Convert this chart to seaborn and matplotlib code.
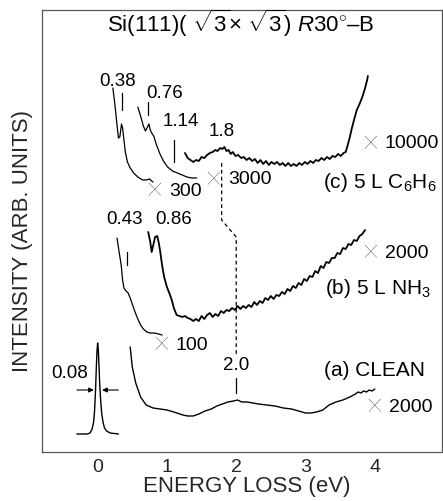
import numpy as np
import pandas as pd
import matplotlib
matplotlib.use("Agg")
import matplotlib.pyplot as plt
import seaborn as sns

# ---------------- data (energy loss in eV, intensity in arbitrary units) ----------------
elastic_e = [-0.30, -0.15, -0.11, -0.08, -0.06, -0.045, -0.03, -0.02, -0.01, 0.0,
             0.01, 0.02, 0.03, 0.045, 0.06, 0.08, 0.10, 0.13, 0.18, 0.30]
elastic_i = [18, 18, 19, 23, 29, 40, 62, 82, 100, 109,
             102, 86, 68, 50, 38, 29, 24, 21, 19, 18]

clean_e = [0.47, 0.50, 0.55, 0.62, 0.70, 0.80, 0.90, 1.00, 1.10, 1.23, 1.30, 1.38, 1.46,
           1.55, 1.64, 1.72, 1.80, 1.88, 1.96, 2.02, 2.08, 2.16, 2.24, 2.32, 2.44, 2.56,
           2.68, 2.80, 2.90, 3.00, 3.08, 3.16, 3.25, 3.34, 3.44, 3.54, 3.64, 3.72, 3.76,
           3.80, 3.84, 3.88, 3.92, 3.96, 4.00]
clean_px = [347, 367, 383, 397, 405, 408, 409, 410, 412, 415, 416, 416, 414,
            411, 409, 406, 404, 402, 401, 400, 402, 402, 403, 404, 405, 406,
            408, 409, 411, 413, 413, 412, 410, 405, 402, 400, 397, 394, 392,
            393, 391, 392, 390, 391, 389]

nh3_x100_e = [0.28, 0.31, 0.34, 0.36, 0.38, 0.41, 0.44, 0.47, 0.50, 0.54, 0.58, 0.62,
              0.66, 0.71, 0.76, 0.82, 0.88, 0.93]
nh3_x100_px = [238, 252, 265, 280, 288, 291, 293, 298, 304, 312, 319, 325,
               329, 332, 333, 333, 334, 335]

nh3_x2000_e = [0.73, 0.76, 0.78, 0.80, 0.83, 0.86, 0.88, 0.90, 0.93, 0.96, 1.00, 1.04,
               1.07, 1.10, 1.14, 1.18, 1.22, 1.26, 1.30, 1.34, 1.38, 1.42, 1.46, 1.50,
               1.54, 1.58, 1.62, 1.66, 1.70, 1.74, 1.78, 1.82, 1.86, 1.90, 1.94, 1.98,
               2.02, 2.06, 2.10, 2.14, 2.18, 2.22, 2.26, 2.30, 2.34, 2.38, 2.42, 2.46,
               2.50, 2.54, 2.58, 2.62, 2.66, 2.70, 2.74, 2.78, 2.82, 2.86, 2.90, 2.94,
               2.98, 3.02, 3.06, 3.10, 3.14, 3.18, 3.22, 3.26, 3.30, 3.34, 3.38, 3.42,
               3.46, 3.50, 3.54, 3.58, 3.62, 3.66, 3.70, 3.74, 3.78, 3.82, 3.86]
nh3_x2000_px = [232, 242, 252, 246, 237, 236, 242, 250, 265, 277, 287, 294,
                300, 308, 315, 316, 317, 316, 318, 319, 321, 319, 321, 316,
                319, 315, 313, 317, 314, 316, 311, 313, 310, 311, 308, 310,
                306, 309, 306, 308, 305, 307, 302, 305, 301, 303, 298, 300,
                296, 299, 295, 296, 292, 294, 289, 291, 286, 288, 283, 285,
                279, 281, 276, 277, 271, 273, 266, 268, 262, 263, 258, 258,
                253, 254, 248, 249, 244, 245, 240, 241, 236, 234, 230]

c6h6_x300_e = [0.22, 0.25, 0.28, 0.30, 0.32, 0.345, 0.36, 0.38, 0.40, 0.43, 0.47,
               0.52, 0.58, 0.65, 0.70, 0.75, 0.78, 0.80]
c6h6_x300_px = [88, 105, 125, 138, 137, 124, 128, 140, 152, 162, 168,
                173, 177, 180, 180, 179, 181, 182]

c6h6_x3000_e = [0.58, 0.62, 0.66, 0.69, 0.72, 0.74, 0.76, 0.78, 0.81, 0.85, 0.90,
                0.95, 1.01, 1.08, 1.15, 1.22, 1.29, 1.36, 1.43]
c6h6_x3000_px = [107, 116, 126, 131, 127, 124, 130, 133, 136, 145, 154,
                 161, 167, 171, 173, 175, 177, 178, 178]

c6h6_x10000_e = [1.26, 1.30, 1.34, 1.38, 1.42, 1.46, 1.50, 1.54, 1.58, 1.62, 1.66, 1.70,
                 1.73, 1.77, 1.80, 1.83, 1.86, 1.89, 1.92, 1.95, 1.99, 2.03, 2.07, 2.11,
                 2.15, 2.19, 2.23, 2.27, 2.31, 2.35, 2.39, 2.43, 2.47, 2.51, 2.55, 2.59,
                 2.63, 2.67, 2.71, 2.75, 2.79, 2.83, 2.87, 2.91, 2.95, 2.99, 3.03, 3.07,
                 3.11, 3.15, 3.19, 3.23, 3.27, 3.31, 3.35, 3.39, 3.43, 3.47, 3.51, 3.55,
                 3.58, 3.61, 3.64, 3.67, 3.70, 3.74, 3.78, 3.82, 3.86, 3.89, 3.90]
c6h6_x10000_px = [153, 158, 160, 162, 160, 161, 157, 158, 155, 153, 152, 150,
                  151, 148, 149, 147, 151, 150, 154, 152, 156, 155, 158, 157,
                  160, 158, 161, 159, 163, 160, 164, 161, 165, 162, 164, 162,
                  165, 163, 166, 163, 166, 164, 166, 163, 165, 162, 164, 161,
                  163, 160, 161, 158, 160, 157, 159, 156, 157, 154, 156, 153,
                  152, 145, 137, 128, 120, 110, 104, 97, 88, 80, 76]

x_ticks = [0, 1, 2, 3, 4]
scale_factors = ["300", "3000", "10000", "2000", "100", "2000"]
TOP = 452  # intensity scale reference (arbitrary units)


def inten(vals):
    return [TOP - v for v in vals]


# ---------------- figure ----------------
sns.set_style("white")
plt.rcParams["font.family"] = ["Liberation Sans", "DejaVu Sans"]
plt.rcParams["mathtext.fontset"] = "custom"
plt.rcParams["mathtext.rm"] = "Liberation Sans"
plt.rcParams["mathtext.it"] = "Liberation Sans:italic"
plt.rcParams["mathtext.bf"] = "Liberation Sans:bold"

fig = plt.figure(figsize=(4.43, 5.01), dpi=100)
ax = fig.add_axes([41.5 / 443, 49 / 501, 400.5 / 443, 442 / 501])

curves = [
    (elastic_e, elastic_i, 1.0, False),
    (clean_e, clean_px, 1.0, True),
    (nh3_x100_e, nh3_x100_px, 0.9, True),
    (nh3_x2000_e, nh3_x2000_px, 1.3, True),
    (c6h6_x300_e, c6h6_x300_px, 0.9, True),
    (c6h6_x3000_e, c6h6_x3000_px, 0.9, True),
    (c6h6_x10000_e, c6h6_x10000_px, 1.3, True),
]
for xe, yv, lw, conv in curves:
    df = pd.DataFrame({"e": xe, "i": inten(yv) if conv else yv})
    sns.lineplot(data=df, x="e", y="i", ax=ax, color="black", lw=lw,
                 estimator=None, sort=False)

ax.set_xlim(-0.81, 4.97)
ax.set_ylim(0, 442)
ax.set_xticks(x_ticks)
ax.set_xticklabels([str(t) for t in x_ticks])
ax.set_yticks([])
ax.tick_params(axis="x", direction="in", length=7, width=0.9, labelsize=14, pad=5,
               color="#333333")
for s in ax.spines.values():
    s.set_visible(True)
    s.set_color("#555555")
    s.set_linewidth(0.9)

ax.set_xlabel("ENERGY LOSS (eV)", fontsize=16, va="center")
ax.xaxis.set_label_coords(0.512, -0.079)
ax.set_ylabel("INTENSITY (ARB. UNITS)", fontsize=16, va="center")
ax.yaxis.set_label_coords(-0.047, 0.477)

# peak markers
mk_x = [0.346, 0.73, 1.10, 0.42, 2.0]
mk_y0 = [342, 337, 290, 187, 59]
mk_y1 = [359, 350, 312, 200, 74]
for x, a, b in zip(mk_x, mk_y0, mk_y1):
    ax.plot([x, x], [a, b], color="black", lw=0.9)

# dashed guide 1.8 -> 2.0
ax.plot([1.79, 1.79, 2.0, 2.0], [289, 232, 215, 97], color="black", lw=0.9,
        ls=(0, (3, 2.5)))

# FWHM arrows
ax.annotate("", xy=(-0.055, 62), xytext=(-0.30, 62),
            arrowprops=dict(arrowstyle="-|>", color="black", lw=0.8,
                            mutation_scale=7, shrinkA=0, shrinkB=0))
ax.annotate("", xy=(0.065, 62), xytext=(0.30, 62),
            arrowprops=dict(arrowstyle="-|>", color="black", lw=0.8,
                            mutation_scale=7, shrinkA=0, shrinkB=0))

tk = dict(ha="center", va="center", color="black")
ax.text(2.07, 429, r"Si(111)( $\sqrt{3}$× $\sqrt{3}$) $R$30$^{\circ}$–B", fontsize=16, **tk)
ax.text(0.29, 370, "0.38", fontsize=13.5, **tk)
ax.text(0.96, 359, "0.76", fontsize=13.5, **tk)
ax.text(1.20, 331, "1.14", fontsize=13.5, **tk)
ax.text(1.79, 320, "1.8", fontsize=13.5, **tk)
ax.text(4.07, 270, "(c) 5 L C$_6$H$_6$", fontsize=15, **tk)
ax.text(0.39, 232, "0.43", fontsize=13.5, **tk)
ax.text(1.09, 232, "0.86", fontsize=13.5, **tk)
ax.text(4.04, 164, "(b) 5 L NH$_3$", fontsize=15, **tk)
ax.text(2.0, 87, "2.0", fontsize=13.5, **tk)
ax.text(3.99, 82, "(a) CLEAN", fontsize=15, **tk)
ax.text(-0.41, 79, "0.08", fontsize=13.5, **tk)

# scale factor labels: large thin "×" followed by the factor
times_pos = [(0.82, 261), (1.67, 272), (3.93, 308), (3.93, 199), (0.92, 107), (3.99, 45)]
for (x, y), f in zip(times_pos, scale_factors):
    ax.text(x, y, "×", fontsize=22, ha="center", va="center", color="black",
            family=["Lato", "DejaVu Sans"], fontweight="light")
    ax.annotate(f, xy=(x, y), xytext=(10.5, 0), textcoords="offset points",
                fontsize=14, ha="left", va="center", color="black")

fig.savefig("out.png", dpi=100)
